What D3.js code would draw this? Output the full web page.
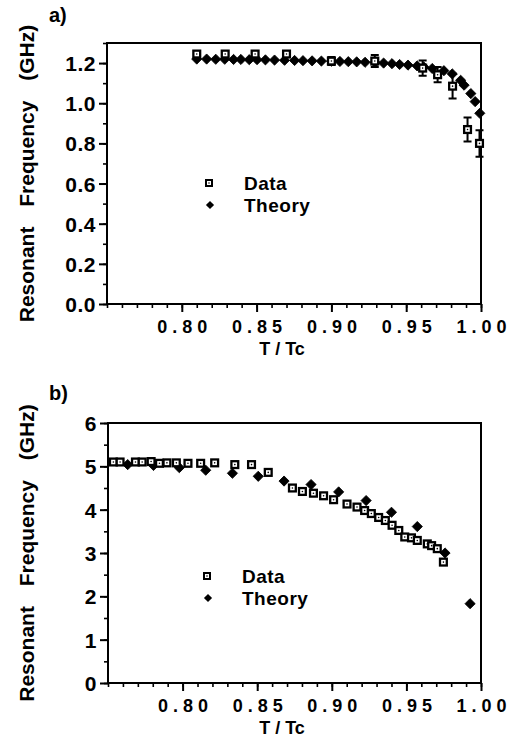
<!DOCTYPE html>
<html>
<head>
<meta charset="utf-8">
<script src="https://cdn.jsdelivr.net/npm/d3@7"></script>
<style>
  body { margin: 0; background: #fff; }
  svg { display: block; font-family: "Liberation Sans", Arial, Helvetica, sans-serif; font-weight: bold; }
</style>
</head>
<body>
<div id="chart"></div>
<script>
// panel a) values
const dataA_T = [0.810, 0.829, 0.849, 0.870, 0.900, 0.929, 0.961, 0.971, 0.981, 0.991, 0.999];
const dataA_f = [1.245, 1.245, 1.245, 1.245, 1.21, 1.21, 1.175, 1.142, 1.085, 0.869, 0.80];
const dataA_err = [0, 0, 0, 0, 0.02, 0.03, 0.038, 0.038, 0.062, 0.06, 0.066];
const theoryA_T = [0.810, 0.8166, 0.8227, 0.8287, 0.8346, 0.8395, 0.8451, 0.8503, 0.8559, 0.862,
    0.8687, 0.8754, 0.881, 0.8871, 0.8933, 0.9001, 0.9057, 0.9113, 0.9169, 0.9225, 0.9292, 0.9349,
    0.9405, 0.9456, 0.9512, 0.9573, 0.9618, 0.9674, 0.9752, 0.9808, 0.9864, 0.9887, 0.9932, 0.9961, 0.9992];
const theoryA_f = [1.220, 1.220, 1.219, 1.219, 1.218, 1.218, 1.217, 1.217, 1.216, 1.215,
    1.214, 1.213, 1.212, 1.211, 1.210, 1.209, 1.208, 1.207, 1.206, 1.204, 1.203, 1.200,
    1.197, 1.193, 1.190, 1.186, 1.180, 1.173, 1.162, 1.146, 1.114, 1.090, 1.048, 1.008, 0.950];

// panel b)
const dataB_T = [0.7536, 0.7581, 0.7684, 0.7729, 0.7789, 0.7845, 0.7895, 0.7958, 0.8036, 0.8121,
    0.8215, 0.835, 0.8462, 0.8574, 0.8736, 0.8803, 0.8877, 0.8945, 0.9012, 0.9102, 0.9169, 0.922,
    0.9265, 0.9314, 0.9359, 0.9404, 0.9449, 0.9489, 0.9534, 0.9573, 0.964, 0.9669, 0.9707, 0.9748];
const dataB_f = [5.10, 5.10, 5.10, 5.10, 5.11, 5.07, 5.08, 5.08, 5.07, 5.07,
    5.08, 5.04, 5.04, 4.86, 4.50, 4.42, 4.38, 4.32, 4.23, 4.13, 4.06, 3.98,
    3.91, 3.82, 3.75, 3.64, 3.52, 3.37, 3.35, 3.29, 3.21, 3.17, 3.10, 2.79];
const theoryB_T = [0.7632, 0.7805, 0.7978, 0.8155, 0.8334, 0.8507, 0.868, 0.8861, 0.9046, 0.923, 0.940, 0.9573, 0.9759, 0.9927];
const theoryB_f = [5.04, 5.02, 4.97, 4.91, 4.84, 4.77, 4.66, 4.58, 4.41, 4.21, 3.94, 3.61, 3.00, 1.83];

const xMajor = [0.80, 0.85, 0.90, 0.95, 1.00];
const legendLabels = ["Data", "Theory"];

const width = 513, height = 739;

const svg = d3.select("#chart").append("svg")
    .attr("width", width)
    .attr("height", height)
    .attr("viewBox", [0, 0, width, height]);

function draw_panel(opts) {
    const {left, right, top, bottom, yMax, yMajor, yMinor, yFmt, label, labelY, legend,
           data, theory} = opts;

    const x = d3.scaleLinear().domain([0.75, 1.00]).range([left, right]);
    const y = d3.scaleLinear().domain([0, yMax]).range([bottom, top]);

    const g = svg.append("g");

    // minor ticks
    g.append("g")
        .attr("transform", `translate(0,${bottom})`)
        .call(d3.axisBottom(x).tickValues(d3.range(75, 101).map(d => d / 100)).tickSize(4).tickFormat(""))
        .call(a => a.select(".domain").remove())
        .call(a => a.selectAll("line").attr("stroke-width", 1.6));

    g.append("g")
        .attr("transform", `translate(${left},0)`)
        .call(d3.axisLeft(y).tickValues(yMinor).tickSize(4).tickFormat(""))
        .call(a => a.select(".domain").remove())
        .call(a => a.selectAll("line").attr("stroke-width", 1.6));

    // major ticks with labels
    g.append("g")
        .attr("transform", `translate(0,${bottom})`)
        .call(d3.axisBottom(x).tickValues(xMajor).tickSize(8).tickPadding(8).tickFormat(d3.format(".2f")))
        .call(a => a.select(".domain").remove())
        .call(a => a.selectAll("line").attr("stroke-width", 2))
        .call(a => a.selectAll("text")
            .attr("font-family", null)
            .attr("font-size", 18)
            .attr("letter-spacing", 5)
            .attr("dx", 2.5)
            .attr("fill", "#000"));

    g.append("g")
        .attr("transform", `translate(${left},0)`)
        .call(d3.axisLeft(y).tickValues(yMajor).tickSize(8).tickPadding(3).tickFormat(yFmt))
        .call(a => a.select(".domain").remove())
        .call(a => a.selectAll("line").attr("stroke-width", 2))
        .call(a => a.selectAll("text")
            .attr("font-family", null)
            .attr("font-size", 21)
            .attr("letter-spacing", 0.5)
            .attr("dy", "0.36em")
            .attr("fill", "#000"));

    // frame
    g.append("rect")
        .attr("x", left)
        .attr("y", top)
        .attr("width", right - left)
        .attr("height", bottom - top)
        .attr("fill", "none")
        .attr("stroke", "#000")
        .attr("stroke-width", 2);

    // axis titles
    g.append("text")
        .attr("x", 282)
        .attr("y", bottom + 51)
        .attr("text-anchor", "middle")
        .attr("font-size", 18)
        .text("T / Tc");

    g.append("text")
        .attr("transform", `translate(34,${(top + bottom) / 2}) rotate(-90)`)
        .attr("text-anchor", "middle")
        .attr("font-size", 21)
        .attr("word-spacing", 14)
        .text("Resonant Frequency (GHz)");

    g.append("text")
        .attr("x", 49)
        .attr("y", labelY)
        .attr("font-size", 20)
        .text(label);

    const diamond = d3.symbol(d3.symbolSquare, 52);

    // theory
    g.append("g")
        .selectAll("path")
        .data(theory)
        .join("path")
            .attr("d", diamond)
            .attr("transform", d => `translate(${x(d.T)},${y(d.f)}) rotate(45)`)
            .attr("fill", "#000")
            .attr("stroke", "#000")
            .attr("stroke-width", 0.8)
            .attr("stroke-linejoin", "round");

    // data with error bars
    const pts = g.append("g")
            .attr("stroke", "#000")
        .selectAll("g")
        .data(data)
        .join("g");

    pts.filter(d => d.err > 0).append("path")
        .attr("fill", "none")
        .attr("stroke-width", 2)
        .attr("d", d => {
            const cx = x(d.T), y0 = y(d.f - d.err), y1 = y(d.f + d.err);
            return `M${cx - 4},${y0}H${cx + 4}M${cx},${y0}V${y1}M${cx - 4},${y1}H${cx + 4}`;
        });

    pts.append("rect")
        .attr("x", d => x(d.T) - 3.4)
        .attr("y", d => y(d.f) - 3.4)
        .attr("width", 6.8)
        .attr("height", 6.8)
        .attr("fill", "#fff")
        .attr("stroke-width", 2.3);

    pts.append("circle")
        .attr("cx", d => x(d.T))
        .attr("cy", d => y(d.f))
        .attr("r", 0.8)
        .attr("stroke", "none")
        .attr("fill", "#000");

    // legend
    const lg = g.append("g").attr("transform", `translate(${left + legend[0]},${top + legend[1]})`);
    lg.append("rect")
        .attr("x", -3)
        .attr("y", -3)
        .attr("width", 6)
        .attr("height", 6)
        .attr("fill", "#fff")
        .attr("stroke", "#000")
        .attr("stroke-width", 2);
    lg.append("circle").attr("r", 0.8).attr("fill", "#000");
    lg.append("path")
        .attr("d", d3.symbol(d3.symbolSquare, 34))
        .attr("transform", "translate(1,22) rotate(45)")
        .attr("fill", "#000");
    lg.selectAll("text")
        .data(legendLabels)
        .join("text")
            .attr("x", 35)
            .attr("y", (d, i) => 7 + i * 22)
            .attr("font-size", 19)
            .attr("letter-spacing", 0.5)
            .text(d => d);
}

draw_panel({
    left: 107, right: 481, top: 43, bottom: 304,
    yMax: 1.3,
    yMajor: d3.range(0, 7).map(d => d * 0.2),
    yMinor: d3.range(0, 14).map(d => d / 10),
    yFmt: d3.format(".1f"),
    label: "a)", labelY: 22,
    legend: [102, 140],
    data: dataA_T.map((T, i) => ({T, f: dataA_f[i], err: dataA_err[i]})),
    theory: theoryA_T.map((T, i) => ({T, f: theoryA_f[i]}))
});

draw_panel({
    left: 108, right: 481, top: 423, bottom: 683,
    yMax: 6,
    yMajor: d3.range(0, 7),
    yMinor: d3.range(0, 13).map(d => d / 2),
    yFmt: d3.format("d"),
    label: "b)", labelY: 400,
    legend: [99, 153],
    data: dataB_T.map((T, i) => ({T, f: dataB_f[i], err: 0})),
    theory: theoryB_T.map((T, i) => ({T, f: theoryB_f[i]}))
});
</script>
</body>
</html>
